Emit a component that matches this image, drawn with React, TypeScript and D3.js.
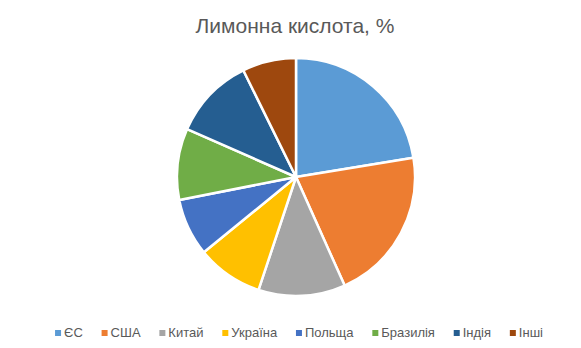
import { useEffect, useRef } from "react";
import * as d3 from "d3";

const categories = ["ЄС", "США", "Китай", "Україна", "Польща", "Бразилія", "Індія", "Інші"];
const shares = [22.4, 20.9, 11.8, 9.0, 7.8, 9.7, 11.1, 7.3];
const colors = ["#5B9BD5", "#ED7D31", "#A5A5A5", "#FFC000", "#4472C4", "#70AD47", "#255E91", "#9E480E"];
const title = "Лимонна кислота, %";

const W = 581;
const H = 348;

export default function App() {
  const svgRef = useRef<SVGSVGElement>(null);

  useEffect(() => {
    if (!svgRef.current) return;
    const svg = d3.select(svgRef.current);
    svg.selectAll("*").remove();

    const font = "'Liberation Sans', Arial, sans-serif";
    const cx = 296;
    const cy = 177;
    const radius = 119;

    // titre
    svg
      .append("text")
      .attr("x", cx - 1)
      .attr("y", 33)
      .attr("text-anchor", "middle")
      .style("font-family", font)
      .style("font-size", "21px")
      .style("fill", "#595959")
      .text(title);

    const pie = d3
      .pie<number>()
      .sort(null)
      .value((d) => d);
    const arc = d3.arc<d3.PieArcDatum<number>>().innerRadius(0).outerRadius(radius);
    const color = d3.scaleOrdinal<string, string>().domain(categories).range(colors);

    svg
      .append("g")
      .attr("transform", `translate(${cx},${cy})`)
      .selectAll("path")
      .data(pie(shares))
      .enter()
      .append("path")
      .attr("d", arc)
      .style("fill", (d, i) => color(categories[i]))
      .style("stroke", "#fff")
      .style("stroke-width", 2.5)
      .style("stroke-linejoin", "round");

    // légende
    const legend = svg.append("g");
    const items = legend
      .selectAll("g")
      .data(categories)
      .enter()
      .append("g");
    items
      .append("rect")
      .attr("width", 6)
      .attr("height", 6)
      .attr("y", -7)
      .style("fill", (d) => color(d));
    const labels = items
      .append("text")
      .attr("x", 9)
      .style("font-family", font)
      .style("font-size", "13px")
      .style("fill", "#595959")
      .text((d) => d);

    const widths = labels.nodes().map((n) => (n as SVGTextElement).getComputedTextLength());
    const gap = 18.8;
    const total = d3.sum(widths, (w) => 9 + w) + gap * (widths.length - 1);
    let x = cx + 3 - total / 2;
    items.attr("transform", (d, i) => {
      const t = `translate(${x},337)`;
      x += 9 + widths[i] + gap;
      return t;
    });
  }, []);

  return (
    <svg
      ref={svgRef}
      width={W}
      height={H}
      style={{ display: "block", position: "absolute", left: 0, top: 0, background: "#fff" }}
    />
  );
}
